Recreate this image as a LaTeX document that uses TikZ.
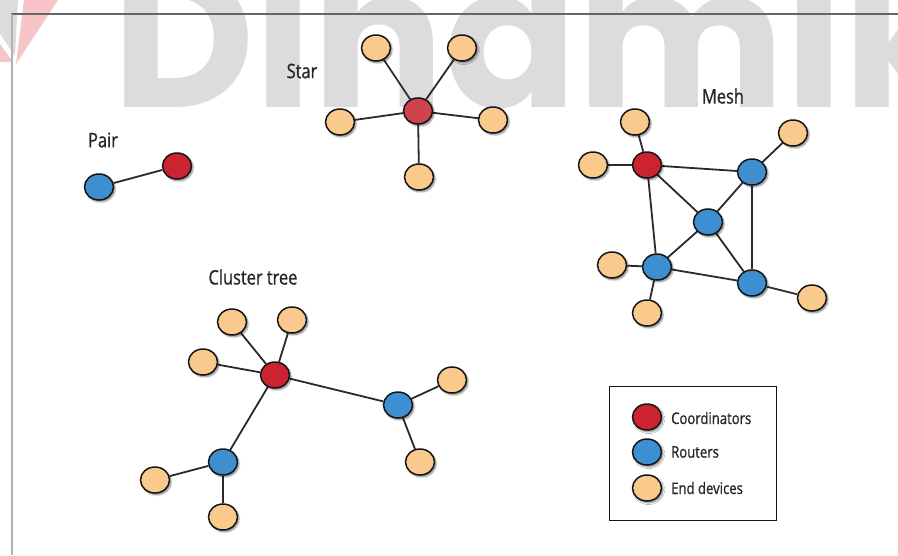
\documentclass[tikz,border=0pt]{standalone}
\usepackage{fontspec}
\usetikzlibrary{shapes.geometric,shadows.blur,backgrounds}
\newfontfamily\labelfont{Open Sans}[FakeStretch=0.82, FakeBold=0.9]
\newfontfamily\markfont{Poppins}

\definecolor{coordred}{HTML}{CB2430}
\definecolor{starred}{HTML}{D0424E}
\definecolor{routerblue}{HTML}{3D8FD1}
\definecolor{devorange}{HTML}{FAC98C}
\definecolor{outline}{HTML}{151515}
\definecolor{linkgray}{HTML}{2A2A2A}
\definecolor{markgray}{HTML}{DCDCDC}
\definecolor{markpink}{HTML}{F7C4C8}

\tikzset{
  netnode/.style={ellipse, draw=outline, line width=1.5pt, minimum width=29pt,
    minimum height=26pt, inner sep=0pt,
    blur shadow={shadow xshift=1.6pt, shadow yshift=-1.8pt, shadow opacity=50, shadow blur steps=6}},
  coord/.style={netnode, fill=coordred},
  router/.style={netnode, fill=routerblue},
  enddev/.style={netnode, fill=devorange},
  link/.style={draw=linkgray, line width=1.8pt},
  title/.style={font=\labelfont\fontsize{20}{22}\selectfont, text=black!85, inner sep=0pt},
  legendtext/.style={font=\labelfont\fontsize{16}{18}\selectfont, text=black!85, inner sep=0pt, anchor=west},
}

\begin{document}
\begin{tikzpicture}[x=1pt,y=-1pt]
\useasboundingbox (0,0) rectangle (898,555);

% ---------- network nodes ----------
% Pair
\node[title] (pairlabel) at (103,140) {Pair};
\node[router] (pb) at (99,187) {};
\node[coord]  (pr) at (177,166) {};

% Star
\node[title] (starlabel) at (302,71) {Star};
\node[coord, fill=starred] (sc) at (418,111) {};
\node[enddev] (s1) at (376,48) {};
\node[enddev] (s2) at (462,48) {};
\node[enddev] (s3) at (340,122) {};
\node[enddev] (s4) at (493,120) {};
\node[enddev] (s5) at (419,177) {};

% Mesh
\node[title] (meshlabel) at (723,96) {Mesh};
\node[coord]  (mc)  at (647,165) {};
\node[enddev] (me1) at (635,122) {};
\node[enddev] (me2) at (593,165) {};
\node[router] (mr1) at (752,172) {};
\node[enddev] (me3) at (793,133) {};
\node[router] (mr2) at (708,222) {};
\node[router] (mr3) at (657,267) {};
\node[enddev] (me4) at (612,265) {};
\node[enddev] (me5) at (647,313) {};
\node[router] (mr4) at (752,283) {};
\node[enddev] (me6) at (812,298) {};

% Cluster tree
\node[title] (clusterlabel) at (253,277) {Cluster tree};
\node[coord]  (cc)  at (275,375) {};
\node[enddev] (ce1) at (232,322) {};
\node[enddev] (ce2) at (292,320) {};
\node[enddev] (ce3) at (203,362) {};
\node[router] (cr1) at (398,405) {};
\node[enddev] (ce4) at (452,380) {};
\node[enddev] (ce5) at (420,462) {};
\node[router] (cr2) at (223,462) {};
\node[enddev] (ce6) at (155,480) {};
\node[enddev] (ce7) at (223,517) {};

% Legend
\node[draw=outline, line width=1.6pt, minimum width=167pt, minimum height=134pt,
      inner sep=0pt, fill=white] (legend) at (693,453.5) {};
\node[coord]  (lc) at (647,417) {};
\node[router] (lr) at (647,452) {};
\node[enddev] (le) at (647,488) {};
\node[legendtext] (lct) at (671,418) {Coordinators};
\node[legendtext] (lrt) at (671,452) {Routers};
\node[legendtext] (let) at (671,488) {End devices};

% ---------- background: watermark, frame and links ----------
\begin{scope}[on background layer]
  \begin{scope}
    \clip (0,0) rectangle (898,555);
    \fill[markgray] (0,0) -- (18,0) -- (15,56) -- (0,34) -- cycle;
    \fill[markpink] (24,0) -- (58,0) -- (16,64) -- cycle;
    \fill[markpink] (0,44) -- (13,62) -- (0,62) -- cycle;
    \node[anchor=base west, inner sep=0pt, text=markgray,
          font=\markfont\bfseries\fontsize{196}{196}\selectfont] (mark) at (112,107) {Dinamik};
  \end{scope}
  \draw[line width=1.8pt, color=black!60] (11,14) -- (898,14);
  \draw[line width=1.8pt, color=black!30] (12,14) -- (12,555);

  \draw[link] (pb) -- (pr);

  \foreach \e in {s1,s2,s3,s4,s5} \draw[link] (sc) -- (\e);

  \draw[link] (mc) -- (me1);
  \draw[link] (mc) -- (me2);
  \draw[link] (mc) -- (mr1);
  \draw[link] (mc) -- (mr2);
  \draw[link] (mc) -- (mr3);
  \draw[link] (mr1) -- (me3);
  \draw[link] (mr1) -- (mr2);
  \draw[link] (mr1) -- (mr4);
  \draw[link] (mr2) -- (mr3);
  \draw[link] (mr2) -- (mr4);
  \draw[link] (mr3) -- (mr4);
  \draw[link] (mr3) -- (me4);
  \draw[link] (mr3) -- (me5);
  \draw[link] (mr4) -- (me6);

  \draw[link] (cc) -- (ce1);
  \draw[link] (cc) -- (ce2);
  \draw[link] (cc) -- (ce3);
  \draw[link] (cc) -- (cr1);
  \draw[link] (cc) -- (cr2);
  \draw[link] (cr1) -- (ce4);
  \draw[link] (cr1) -- (ce5);
  \draw[link] (cr2) -- (ce6);
  \draw[link] (cr2) -- (ce7);
\end{scope}
\end{tikzpicture}
\end{document}
